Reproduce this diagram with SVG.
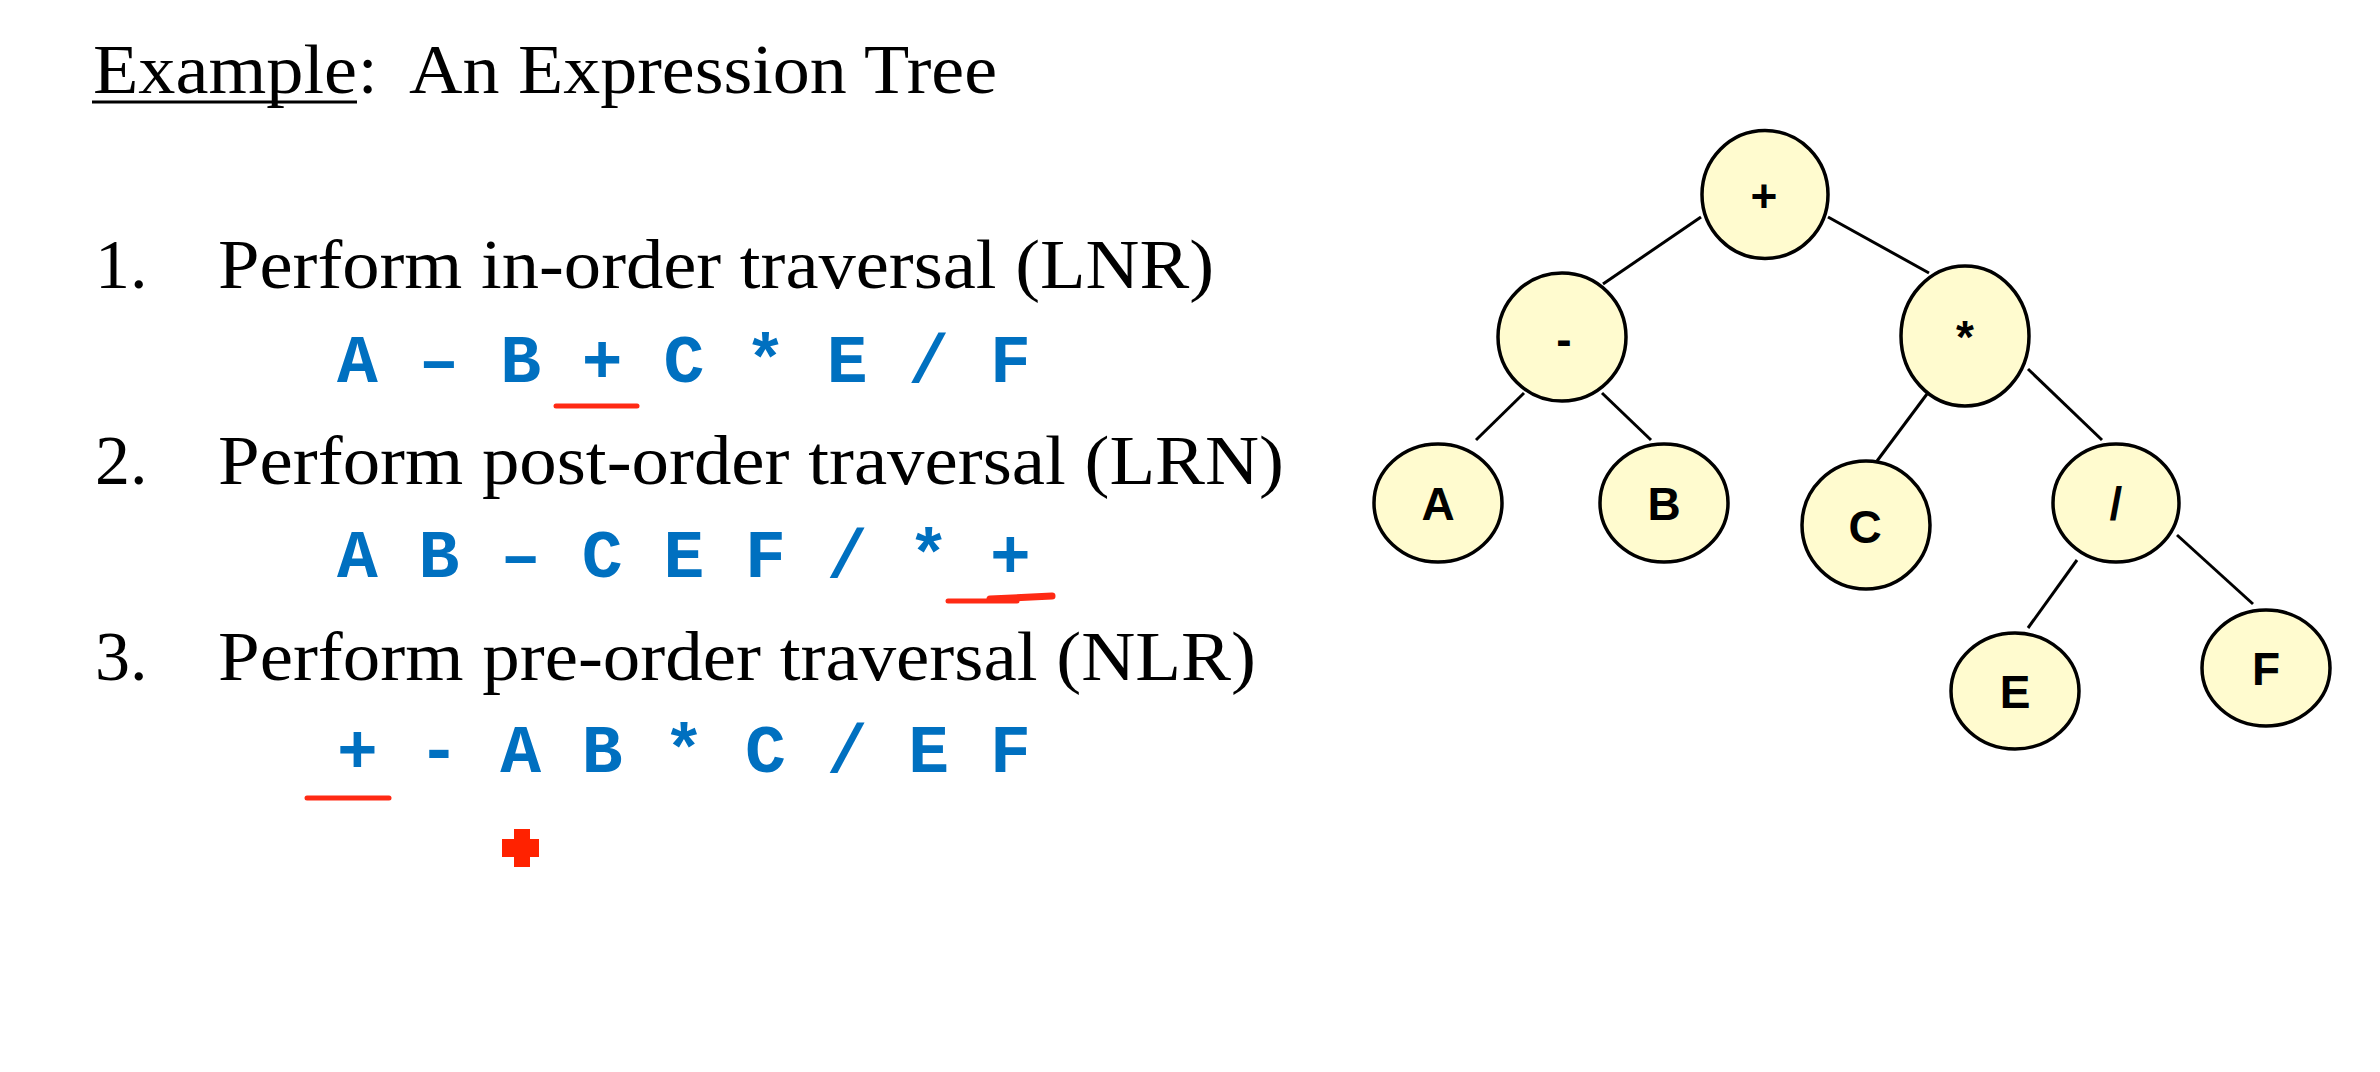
<svg xmlns="http://www.w3.org/2000/svg" width="2380" height="1072" viewBox="0 0 2380 1072">
<style>
.serif{font-family:"Liberation Serif","Times New Roman",serif;font-size:70px;fill:#000}
.mono{font-family:"Liberation Mono","Courier New",monospace;font-size:68px;font-weight:bold;fill:#0070C0}
.node{fill:#FFFBCF;stroke:#000;stroke-width:3.5}
.lbl{font-family:"Liberation Sans",Arial,sans-serif;font-size:46px;font-weight:bold;fill:#000;text-anchor:middle}
.edge{stroke:#000;stroke-width:3;fill:none}
.red{stroke:#FF2A14;fill:none;stroke-linecap:round}
</style>
<rect width="2380" height="1072" fill="#fff"/>
<g id="text">
<text class="serif" x="93" y="93" textLength="264" lengthAdjust="spacingAndGlyphs">Example</text>
<line x1="92" y1="102" x2="357" y2="102" stroke="#000" stroke-width="3"/>
<text class="serif" x="358" y="93">:</text>
<text class="serif" x="409" y="93" textLength="588" lengthAdjust="spacingAndGlyphs">An Expression Tree</text>
<text class="serif" x="95" y="288">1.</text>
<text class="serif" x="218" y="288" textLength="996" lengthAdjust="spacingAndGlyphs">Perform in-order traversal (LNR)</text>
<text class="mono" x="337" y="382" xml:space="preserve">A – B + C * E / F</text>
<text class="serif" x="95" y="484">2.</text>
<text class="serif" x="218" y="484" textLength="1066" lengthAdjust="spacingAndGlyphs">Perform post-order traversal (LRN)</text>
<text class="mono" x="337" y="577" xml:space="preserve">A B – C E F / * +</text>
<text class="serif" x="95" y="680">3.</text>
<text class="serif" x="218" y="680" textLength="1038" lengthAdjust="spacingAndGlyphs">Perform pre-order traversal (NLR)</text>
<text class="mono" x="337" y="772" xml:space="preserve">+ - A B * C / E F</text>
</g>
<g id="marks">
<line class="red" x1="556" y1="406" x2="637" y2="406" stroke-width="5"/>
<line class="red" x1="948" y1="601" x2="1017" y2="601" stroke-width="5"/>
<line class="red" x1="990" y1="599" x2="1052" y2="596" stroke-width="7"/>
<line class="red" x1="307" y1="798" x2="389" y2="798" stroke-width="5"/>
<path d="M514,829h16v10h9v18h-9v10h-16v-10h-12v-18h12z" fill="#FF2200"/>
</g>
<g id="connectors">
<line class="edge" x1="1701" y1="217" x2="1603" y2="284"/>
<line class="edge" x1="1828" y1="217" x2="1929" y2="273"/>
<line class="edge" x1="1524" y1="393" x2="1476" y2="440"/>
<line class="edge" x1="1602" y1="393" x2="1651" y2="440"/>
<line class="edge" x1="1927" y1="394" x2="1877" y2="461"/>
<line class="edge" x1="2028" y1="369" x2="2102" y2="440"/>
<line class="edge" x1="2077" y1="560" x2="2028" y2="628"/>
<line class="edge" x1="2177" y1="535" x2="2253" y2="604"/>
</g>
<g id="node-plus"><ellipse class="node" cx="1765" cy="194.5" rx="63" ry="64"/><text class="lbl" x="1764" y="212">+</text></g>
<g id="node-minus"><ellipse class="node" cx="1562" cy="337" rx="64" ry="64"/><text class="lbl" x="1564" y="355">-</text></g>
<g id="node-mult"><ellipse class="node" cx="1965" cy="336" rx="64" ry="70"/><text class="lbl" x="1965" y="353">*</text></g>
<g id="node-A"><ellipse class="node" cx="1438" cy="503" rx="64" ry="59"/><text class="lbl" x="1438" y="520">A</text></g>
<g id="node-B"><ellipse class="node" cx="1664" cy="503" rx="64" ry="59"/><text class="lbl" x="1664" y="520">B</text></g>
<g id="node-C"><ellipse class="node" cx="1866" cy="525" rx="64" ry="64"/><text class="lbl" x="1865" y="543">C</text></g>
<g id="node-div"><ellipse class="node" cx="2116" cy="503" rx="63" ry="59"/><text class="lbl" x="2116" y="520">/</text></g>
<g id="node-E"><ellipse class="node" cx="2015" cy="691" rx="64" ry="58"/><text class="lbl" x="2015" y="708">E</text></g>
<g id="node-F"><ellipse class="node" cx="2266" cy="668" rx="64" ry="58"/><text class="lbl" x="2266" y="685">F</text></g>
</svg>
